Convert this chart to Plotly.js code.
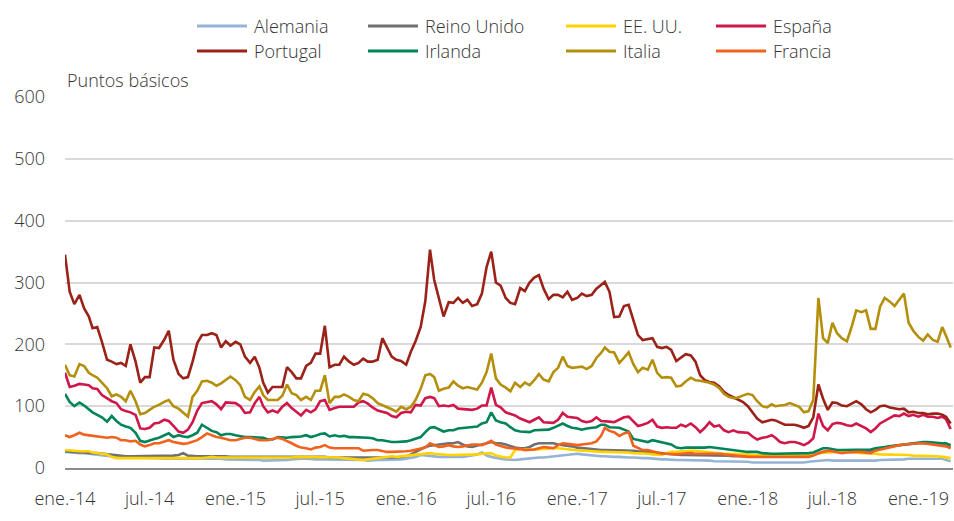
<!DOCTYPE html>
<html><head><meta charset="utf-8">
<script src="https://cdn.plot.ly/plotly-3.0.1.min.js"></script>
<style>html,body{margin:0;padding:0;background:#fff}#chart{width:954px;height:521px}</style>
</head><body><div id="chart"></div>
<script>
const fechas = [
'2014-01-01','2014-01-11','2014-01-21','2014-02-01','2014-02-11','2014-02-21','2014-03-01','2014-03-11','2014-03-21','2014-04-01','2014-04-11','2014-04-21','2014-05-01','2014-05-11','2014-05-21','2014-06-01','2014-06-11','2014-06-21','2014-07-01','2014-07-11','2014-07-21','2014-08-01','2014-08-11','2014-08-21','2014-09-01','2014-09-11','2014-09-21','2014-10-01','2014-10-11','2014-10-21','2014-11-01','2014-11-11','2014-11-21','2014-12-01','2014-12-11','2014-12-21',
'2015-01-01','2015-01-11','2015-01-21','2015-02-01','2015-02-11','2015-02-21','2015-03-01','2015-03-11','2015-03-21','2015-04-01','2015-04-11','2015-04-21','2015-05-01','2015-05-11','2015-05-21','2015-06-01','2015-06-11','2015-06-21','2015-07-01','2015-07-11','2015-07-21','2015-08-01','2015-08-11','2015-08-21','2015-09-01','2015-09-11','2015-09-21','2015-10-01','2015-10-11','2015-10-21','2015-11-01','2015-11-11','2015-11-21','2015-12-01','2015-12-11','2015-12-21',
'2016-01-01','2016-01-11','2016-01-21','2016-02-01','2016-02-11','2016-02-21','2016-03-01','2016-03-11','2016-03-21','2016-04-01','2016-04-11','2016-04-21','2016-05-01','2016-05-11','2016-05-21','2016-06-01','2016-06-11','2016-06-21','2016-07-01','2016-07-11','2016-07-21','2016-08-01','2016-08-11','2016-08-21','2016-09-01','2016-09-11','2016-09-21','2016-10-01','2016-10-11','2016-10-21','2016-11-01','2016-11-11','2016-11-21','2016-12-01','2016-12-11','2016-12-21',
'2017-01-01','2017-01-11','2017-01-21','2017-02-01','2017-02-11','2017-02-21','2017-03-01','2017-03-11','2017-03-21','2017-04-01','2017-04-11','2017-04-21','2017-05-01','2017-05-11','2017-05-21','2017-06-01','2017-06-11','2017-06-21','2017-07-01','2017-07-11','2017-07-21','2017-08-01','2017-08-11','2017-08-21','2017-09-01','2017-09-11','2017-09-21','2017-10-01','2017-10-11','2017-10-21','2017-11-01','2017-11-11','2017-11-21','2017-12-01','2017-12-11','2017-12-21',
'2018-01-01','2018-01-11','2018-01-21','2018-02-01','2018-02-11','2018-02-21','2018-03-01','2018-03-11','2018-03-21','2018-04-01','2018-04-11','2018-04-21','2018-05-01','2018-05-11','2018-05-21','2018-06-01','2018-06-11','2018-06-21','2018-07-01','2018-07-11','2018-07-21','2018-08-01','2018-08-11','2018-08-21','2018-09-01','2018-09-11','2018-09-21','2018-10-01','2018-10-11','2018-10-21','2018-11-01','2018-11-11','2018-11-21','2018-12-01','2018-12-11','2018-12-21',
'2019-01-01','2019-01-11','2019-01-21','2019-02-01','2019-02-11','2019-02-21','2019-03-01','2019-03-11'];

const alemania = [
26,25,25,24,24,23,22,21,20,19,18,18,18,17,17,17,17,16,16,16,16,15,15,15,16,15,15,16,16,15,15,15,15,15,14,14,
14,13,13,14,14,13,12,12,12,12,12,13,14,15,15,15,14,14,14,14,13,13,13,13,13,13,13,13,12,13,13,13,13,13,13,14,
15,16,18,21,20,19,18,18,18,18,17,18,18,19,20,22,25,20,18,16,15,14,13,13,14,15,16,16,17,17,18,19,20,21,22,23,
23,22,21,21,20,19,19,18,18,18,17,17,17,16,16,16,15,15,14,14,13,13,13,13,13,13,12,12,12,11,11,11,10,10,10,10,
10,9,9,9,9,8,8,8,8,8,8,9,9,10,11,12,13,13,12,12,11,11,11,11,12,12,12,12,13,13,13,13,14,14,15,15,
16,16,16,16,16,15,13,11];

const reinoUnido = [
27,26,26,25,25,24,24,24,23,22,21,20,20,19,19,19,19,19,19,19,19,19,19,20,21,24,20,19,19,19,19,20,19,19,19,18,
18,18,19,19,19,19,18,18,18,18,18,19,19,19,18,18,18,18,18,18,17,17,17,17,16,16,16,16,16,16,16,16,17,17,17,18,
19,22,26,31,34,36,37,37,38,40,40,42,38,35,34,36,38,40,42,40,40,38,35,33,32,32,34,38,40,40,40,40,38,37,37,35,
33,32,31,30,29,29,29,29,29,29,29,28,28,27,27,26,25,25,24,23,22,21,21,21,21,21,21,21,21,20,20,20,20,19,19,19,
19,19,19,19,19,19,19,19,20,20,20,20,20,20,21,24,26,26,26,26,26,26,26,27,27,27,28,30,32,33,35,36,37,38,39,40,
40,40,40,39,38,38,36,34];

const eeuu = [
29,28,28,27,27,27,25,24,24,22,18,16,16,16,16,16,16,16,15,15,15,15,15,15,15,16,16,16,16,16,17,18,17,17,16,16,
16,16,17,17,17,16,16,16,16,16,17,17,17,18,18,17,17,17,17,18,18,17,17,16,15,15,14,13,14,15,16,17,18,19,18,19,
20,21,22,23,24,24,23,22,22,21,21,21,21,22,22,22,23,24,24,20,18,17,17,29,30,30,30,29,30,31,32,32,32,31,31,30,
29,28,28,27,26,26,26,26,26,26,25,25,24,24,24,23,22,21,21,24,26,26,27,28,28,28,27,26,25,24,24,23,23,23,22,22,
22,21,21,21,21,21,21,21,21,21,21,21,21,21,22,24,25,26,26,26,26,26,25,25,24,24,23,23,22,22,22,21,21,21,21,20,
20,20,19,19,19,18,17,16];

const espana = [
154,131,133,136,135,134,129,128,118,112,108,105,95,92,90,86,64,63,65,72,73,78,76,68,59,57,62,74,93,105,106,108,103,95,106,106,
105,100,89,90,105,115,100,90,93,90,99,105,97,91,85,94,90,95,108,110,94,97,99,99,99,99,106,108,104,98,93,91,89,84,82,89,
91,90,102,101,113,115,113,100,101,100,102,96,95,95,94,96,101,101,130,102,98,90,88,85,80,77,74,78,82,74,73,73,78,89,83,82,
81,76,74,76,82,76,76,75,74,78,82,83,76,68,70,73,78,67,65,66,65,65,70,67,72,66,58,65,74,67,69,61,58,61,58,58,
57,51,46,49,50,53,49,42,40,42,42,40,37,41,48,88,68,61,71,73,72,69,68,72,68,64,58,64,72,76,81,85,84,88,84,86,
83,86,83,83,81,83,79,63];

const portugal = [
345,285,265,280,258,245,226,228,204,175,172,168,170,165,200,172,138,147,147,195,194,207,222,175,152,145,147,172,202,215,215,218,215,195,205,198,
204,200,180,170,180,162,138,122,131,131,131,163,155,145,145,165,170,185,185,230,163,167,167,180,172,167,170,177,172,172,175,210,196,180,175,173,
167,188,205,228,270,353,304,272,245,268,267,275,267,272,262,265,282,325,350,300,295,275,267,265,291,286,300,308,312,290,273,280,280,276,285,272,
275,282,278,280,290,296,301,285,244,245,262,264,238,215,207,208,210,196,194,196,191,173,178,184,182,172,150,142,139,138,132,123,118,114,111,107,
100,90,80,74,76,78,77,73,70,70,70,68,65,68,82,135,112,94,106,105,101,100,104,108,103,95,90,94,100,101,98,97,95,96,90,91,
89,89,87,88,88,86,83,72];

const irlanda = [
120,107,100,106,101,95,90,86,82,75,84,76,70,67,65,57,44,42,45,47,49,52,56,50,53,51,50,53,57,70,65,60,58,53,55,55,
53,51,50,50,50,49,49,46,46,50,49,49,50,50,51,53,50,52,55,56,51,53,51,52,50,50,50,50,49,48,45,45,43,42,42,42,
43,45,48,50,58,65,66,62,59,61,61,64,65,66,66,67,72,74,90,77,74,72,66,61,59,58,58,61,61,61,62,65,69,72,68,65,
64,62,64,65,66,70,70,66,66,65,62,59,47,45,43,42,45,43,42,40,38,33,32,33,33,32,32,33,34,33,32,30,29,29,28,27,
26,26,26,24,23,23,23,23,24,24,24,24,24,24,25,29,32,32,30,29,29,29,29,29,29,29,30,32,33,35,36,37,38,39,40,40,
41,42,42,41,40,40,40,37];

const italia = [
167,150,148,168,165,154,150,146,138,129,116,119,115,108,125,108,87,89,94,99,102,107,110,100,96,90,83,115,125,140,141,138,133,137,142,148,
142,134,115,110,123,132,118,110,110,110,117,135,121,118,110,115,110,125,125,150,105,115,115,119,115,110,108,120,118,113,105,102,98,95,91,99,
95,99,110,128,150,152,147,125,128,130,140,133,129,131,129,127,138,155,185,145,135,130,124,138,131,138,134,142,152,143,140,155,162,180,165,162,
163,164,160,165,178,186,195,188,187,170,178,187,168,155,162,159,175,154,146,147,146,132,133,140,146,142,141,140,138,135,129,120,115,113,114,117,
120,118,108,100,98,103,100,101,102,105,102,99,90,92,110,275,210,202,235,218,210,205,228,255,252,255,225,225,261,275,269,262,272,282,235,222,
212,206,216,207,204,228,214,195];

const francia = [
53,50,53,57,54,53,53,51,50,49,50,49,45,45,43,44,38,35,37,40,40,42,45,42,40,39,40,42,45,50,56,53,50,49,47,45,
45,47,49,49,47,45,45,45,47,49,47,44,40,36,33,32,30,33,34,37,33,32,32,32,32,31,32,28,29,29,29,27,26,26,26,26,
27,28,30,31,33,40,37,34,35,37,35,34,35,37,38,38,37,40,44,38,35,33,32,32,31,29,29,30,32,34,33,32,37,40,39,38,
37,38,39,40,43,52,65,60,58,52,56,58,36,32,29,29,27,25,23,23,22,22,23,24,24,23,23,24,24,24,23,22,21,20,19,18,
18,18,18,18,18,18,18,18,18,18,18,18,18,18,20,24,26,28,27,26,24,25,26,26,26,25,24,28,30,32,34,35,37,38,39,39,
40,40,39,38,37,36,35,32];

const nombres = ['Alemania','Reino Unido','EE. UU.','España','Portugal','Irlanda','Italia','Francia'];
const valores = [alemania, reinoUnido, eeuu, espana, portugal, irlanda, italia, francia];
const colores = ['#95b3d7','#707070','#ffd200','#d0174a','#9b2219','#00845a','#b38f0b','#f0621e'];

const tickVals = ['2014-01-01','2014-07-01','2015-01-01','2015-07-01','2016-01-01','2016-07-01','2017-01-01','2017-07-01','2018-01-01','2018-07-01','2019-01-01'];
const tickText = ['ene.-14','jul.-14','ene.-15','jul.-15','ene.-16','jul.-16','ene.-17','jul.-17','ene.-18','jul.-18','ene.-19'];

const FONT = '"Open Sans", "Liberation Sans", sans-serif';
const TXT = '#333333';
const FSIZE = 18;

const traces = nombres.map((n, i) => ({
  type: 'scatter', mode: 'lines', name: n, x: fechas, y: valores[i],
  line: {color: colores[i], width: 2.6}, showlegend: false
}));

// plot area in pixels
const L = 65, R = 953, T = 97, B = 468;
const W = R - L, H = B - T;
const px = x => (x - L) / W;
const py = y => (B - y) / H;

const legCols = [197, 368, 566, 716];
const legRows = [26, 51];
const shapes = [], annotations = [];
nombres.forEach((n, i) => {
  const cx = legCols[i % 4], cy = legRows[Math.floor(i / 4)];
  shapes.push({type: 'line', xref: 'paper', yref: 'paper',
    x0: px(cx), x1: px(cx + 50), y0: py(cy), y1: py(cy),
    line: {color: colores[i], width: 3}});
  annotations.push({xref: 'paper', yref: 'paper', x: px(cx + 55), y: py(cy),
    xanchor: 'left', yanchor: 'middle', showarrow: false, text: n,
    font: {family: FONT, size: FSIZE, color: TXT, weight: 300}});
});
annotations.push({xref: 'paper', yref: 'paper', x: 0, y: py(80), xanchor: 'left', yanchor: 'middle',
  showarrow: false, text: 'Puntos básicos', font: {family: FONT, size: FSIZE, color: TXT, weight: 300}});

const layout = {
  width: 954, height: 521,
  margin: {l: L, r: 954 - R, t: T, b: 521 - B},
  paper_bgcolor: '#ffffff', plot_bgcolor: '#ffffff',
  font: {family: FONT, size: FSIZE, color: TXT, weight: 300},
  showlegend: false,
  xaxis: {type: 'date', range: ['2014-01-01', '2019-03-16'], tickvals: tickVals, ticktext: tickText,
    showgrid: false, zeroline: false, showline: true, linecolor: '#8c8c8c', linewidth: 2,
    ticks: '', ticklabelstandoff: 13, tickfont: {family: FONT, size: FSIZE, color: TXT, weight: 300}, fixedrange: true},
  yaxis: {range: [0, 600], dtick: 100, tick0: 0, showgrid: true, gridcolor: '#d9d9d9', gridwidth: 2,
    zeroline: false, showline: false, ticks: '', ticklabelstandoff: 19,
    tickfont: {family: FONT, size: FSIZE, color: TXT, weight: 300}, fixedrange: true},
  shapes: shapes, annotations: annotations
};

Plotly.newPlot('chart', traces, layout, {displayModeBar: false, staticPlot: true});
</script>
</body></html>
